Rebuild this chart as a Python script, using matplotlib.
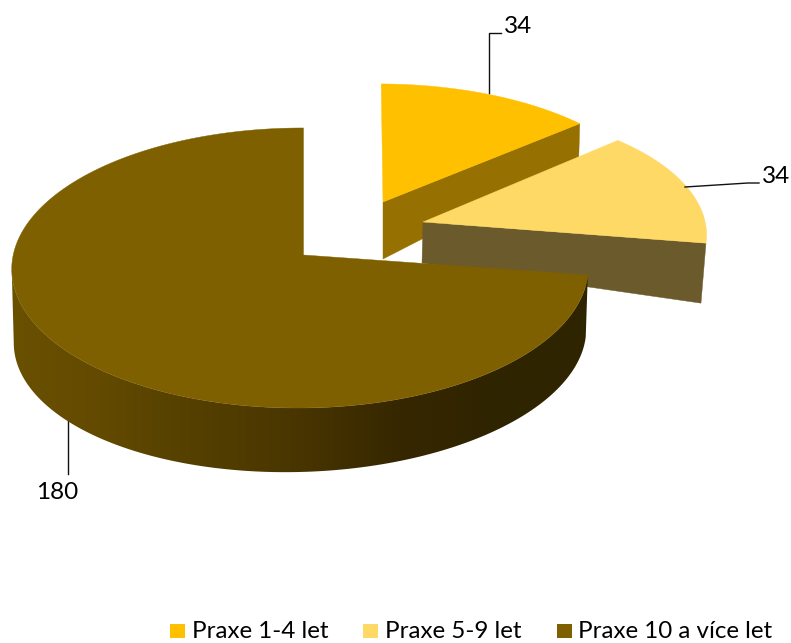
import numpy as np
import matplotlib
matplotlib.use("Agg")
import matplotlib.pyplot as plt
from matplotlib.colors import LinearSegmentedColormap
from matplotlib.patches import Polygon

categories = ["Praxe 1-4 let", "Praxe 5-9 let", "Praxe 10 a více let"]
values = [34, 34, 180]
top_colors = ["#FFC000", "#FFD966", "#7F6000"]
cut_colors = ["#967000", "#6B5A2B", "#33270A"]

plt.rcParams['font.family'] = ['Lato', 'DejaVu Sans']
fig = plt.figure(figsize=(7.91, 6.43), dpi=100)
ax = fig.add_axes([0, 0, 1, 1])
ax.set_xlim(0, 791)
ax.set_ylim(643, 0)
ax.axis('off')

# cumulative angles, clockwise from north
frac = np.array(values, float) / sum(values) * 360
starts = np.concatenate([[0], np.cumsum(frac)[:-1]])
ends = starts + frac


def project(theta, plane):
    cx, cy, a, b, p, q, k = plane
    t = np.radians(theta)
    u, v = np.sin(t), np.cos(t)
    w = 1 + p * v + q * u
    return cx + a * u / w, cy - b * v / w + k * u / w


def arc(t0, t1, plane, n=200):
    return project(np.linspace(t0, t1, n), plane)


top_planes = [
    (383, 202, 278, 129, 0.0927, 0.0155, 0),
    (423, 222, 250, 122, 0.0927, -0.114, 0),
    (303.5, 255, 287, 138.8, 0.0927, 0.012, -1),
]
bottom_big = (300, 323.3, 285, 134.9, 0.0927, 0, -7)
# slice 1 and 2: only the cut face is visible (apex depth, rim depth, rim dx)
cut_faces = [(57, 35, -1), (41, 60, -5)]
start_nudge = [-0.4, 0, 0]

for i in range(2):
    pl = top_planes[i]
    d0, d1, dx = cut_faces[i]
    ex, ey = project(ends[i], pl)
    ax.fill([pl[0], ex, ex + dx, pl[0] - (0 if i == 0 else 1)],
            [pl[1], ey, ey + d1, pl[1] + d0],
            color=cut_colors[i], lw=0.3, zorder=2 + 2 * i)
    xs, ys = arc(starts[i] + start_nudge[i], ends[i], pl)
    ax.fill(np.r_[pl[0], xs], np.r_[pl[1], ys], color=top_colors[i], lw=0.3,
            zorder=3 + 2 * i)

# big slice side with horizontal shading, clipped to the side outline
grad_x = np.array([10, 100, 150, 290, 400, 500, 590])
grad_c = ["#6A5000", "#634A00", "#5A4400", "#4A3600", "#362700", "#2F2400", "#2E2400"]
cmap = LinearSegmentedColormap.from_list(
    "side", [((x - grad_x[0]) / (grad_x[-1] - grad_x[0]), c) for x, c in zip(grad_x, grad_c)])
pl = top_planes[2]
th = np.linspace(starts[2], 300, 400)
tx, ty = project(th, pl)
bx, by = project(th, bottom_big)
# stop each rim at its leftmost point so that the tangent closes the outline
nt, nb = np.argmin(tx) + 1, np.argmin(bx) + 1
outline = Polygon(np.c_[np.r_[tx[:nt], bx[:nb][::-1]], np.r_[ty[:nt], by[:nb][::-1]]],
                  closed=True, transform=ax.transData, fc='none', ec='none')
ax.add_patch(outline)
im = ax.imshow(np.linspace(0, 1, 256)[None, :], cmap=cmap, aspect='auto',
               extent=(grad_x[0], grad_x[-1], 480, 260), zorder=6,
               interpolation='bilinear')
im.set_clip_path(outline)
ax.set_xlim(0, 791)
ax.set_ylim(643, 0)

xs, ys = arc(starts[2], ends[2], pl, 400)
ax.fill(np.r_[pl[0], xs], np.r_[pl[1], ys], color=top_colors[2], lw=0.3, zorder=7)

# data labels with leader lines
label_font = 17.5
ax.plot([489, 489, 501], [93, 33, 33], color='#111111', lw=1, zorder=8)
ax.text(504, 33, str(values[0]), fontsize=label_font, va='baseline', ha='left', color='black', zorder=9)
ax.plot([685, 748, 759], [187, 183, 183], color='#111111', lw=1, zorder=8)
ax.text(762, 183, str(values[1]), fontsize=label_font, va='baseline', ha='left', color='black', zorder=9)
ax.plot([68, 68], [412, 474], color='#111111', lw=1, zorder=1)
ax.text(36, 499, str(values[2]), fontsize=label_font, va='baseline', ha='left', color='black', zorder=9)

# legend
sq_x = [170, 363, 557]
tx_x = [192, 385, 578.5]
for c, name, sx, lx in zip(top_colors, categories, sq_x, tx_x):
    ax.fill([sx, sx + 15, sx + 15, sx], [624, 624, 638, 638], color=c, lw=0)
    ax.text(lx, 638, name, fontsize=17.4, va='baseline', ha='left', color='black')

fig.savefig("out.png", dpi=100)
